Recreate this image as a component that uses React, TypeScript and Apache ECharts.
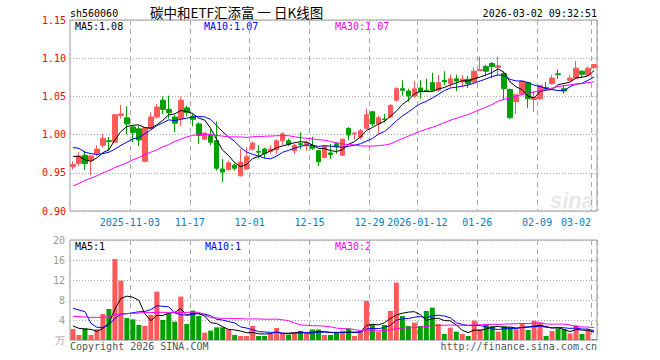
import React, { useEffect, useRef } from "react";
import * as echarts from "echarts";

const dates = [
  "2025-10-20","2025-10-21","2025-10-22","2025-10-23","2025-10-24","2025-10-27","2025-10-28","2025-10-29","2025-10-30","2025-10-31",
  "2025-11-03","2025-11-04","2025-11-05","2025-11-06","2025-11-07","2025-11-10","2025-11-11","2025-11-12","2025-11-13","2025-11-14",
  "2025-11-17","2025-11-18","2025-11-19","2025-11-20","2025-11-21","2025-11-24","2025-11-25","2025-11-26","2025-11-27","2025-11-28",
  "2025-12-01","2025-12-02","2025-12-03","2025-12-04","2025-12-05","2025-12-08","2025-12-09","2025-12-10","2025-12-11","2025-12-12",
  "2025-12-15","2025-12-16","2025-12-17","2025-12-18","2025-12-19","2025-12-22","2025-12-23","2025-12-24","2025-12-25","2025-12-26",
  "2025-12-29","2025-12-30","2025-12-31","2026-01-05","2026-01-06","2026-01-07","2026-01-08","2026-01-09",
  "2026-01-12","2026-01-13","2026-01-14","2026-01-15","2026-01-16","2026-01-19","2026-01-20","2026-01-21","2026-01-22","2026-01-23",
  "2026-01-26","2026-01-27","2026-01-28","2026-01-29","2026-01-30","2026-02-02","2026-02-03","2026-02-04","2026-02-05","2026-02-06",
  "2026-02-09","2026-02-10","2026-02-11","2026-02-12","2026-02-13","2026-02-24","2026-02-25","2026-02-26","2026-02-27",
  "2026-03-02",
];

const openP = [
  0.958,0.962,0.973,0.966,0.975,0.986,0.992,0.990,1.025,1.022,
  1.010,1.0075,0.965,1.008,1.023,1.045,1.033,1.023,1.021,1.035,
  1.024,1.014,0.994,0.999,0.992,0.955,0.954,0.960,0.946,0.955,
  0.981,0.978,0.981,0.978,0.980,0.992,0.992,0.979,0.988,0.9855,
  0.986,0.979,0.970,0.976,0.988,0.973,1.008,1.001,0.9965,1.008,
  1.030,1.014,1.0205,1.023,1.045,1.060,1.057,1.0505,
  1.061,1.058,1.068,1.058,1.071,1.067,1.073,1.069,1.0725,1.069,
  1.084,1.089,1.093,1.088,1.080,1.059,1.043,1.0535,1.068,1.046,
  1.047,1.0615,1.0667,1.0795,1.060,1.071,1.074,1.083,1.078,
  1.088,
];
const closeP = [
  0.961,0.972,0.962,0.972,0.981,0.995,0.991,1.026,1.027,1.014,
  1.003,0.993,1.009,1.023,1.036,1.033,1.029,1.015,1.045,1.029,
  1.020,0.999,1.002,0.990,0.956,0.951,0.963,0.956,0.964,0.971,
  0.989,0.977,0.975,0.981,0.992,1.001,0.987,0.986,0.987,0.990,
  0.982,0.9645,0.985,0.974,0.984,0.994,0.9995,1.002,1.005,1.026,
  1.014,1.022,1.0195,1.038,1.060,1.058,1.0505,1.060,
  1.056,1.057,1.058,1.068,1.069,1.073,1.070,1.0725,1.067,1.083,
  1.085,1.083,1.089,1.090,1.060,1.022,1.052,1.070,1.047,1.049,
  1.0645,1.0605,1.074,1.0785,1.057,1.074,1.087,1.079,1.087,
  1.0917,
];
const lowP = [
  0.954,0.959,0.954,0.947,0.972,0.983,0.979,0.989,1.021,1.000,
  0.990,0.985,0.964,1.0075,1.021,1.027,1.021,1.003,1.011,1.024,
  1.011,0.988,0.993,0.986,0.953,0.938,0.953,0.953,0.945,0.954,
  0.979,0.969,0.969,0.975,0.975,0.986,0.985,0.975,0.981,0.979,
  0.980,0.959,0.969,0.968,0.975,0.972,0.993,0.993,0.994,1.007,
  1.011,1.001,1.016,1.022,1.043,1.051,1.043,1.048,
  1.047,1.056,1.056,1.056,1.0645,1.062,1.057,1.062,1.061,1.067,
  1.083,1.077,1.074,1.077,1.045,1.021,1.027,1.051,1.035,1.030,
  1.045,1.059,1.0655,1.073,1.0535,1.070,1.073,1.075,1.077,
  1.086,
];
const highP = [
  0.965,0.977,0.979,0.973,0.986,1.001,0.997,1.027,1.039,1.037,
  1.012,1.011,1.009,1.029,1.040,1.050,1.051,1.026,1.050,1.038,
  1.027,1.016,1.003,1.007,1.017,0.968,0.966,0.962,0.981,0.983,
  0.991,0.986,0.983,0.986,0.994,1.003,0.995,0.988,1.003,0.992,
  0.997,0.979,0.986,0.988,0.990,0.995,1.010,1.003,1.0075,1.034,
  1.030,1.025,1.027,1.040,1.062,1.071,1.060,1.070,
  1.071,1.073,1.081,1.078,1.083,1.0785,1.0785,1.078,1.077,1.088,
  1.102,1.091,1.095,1.102,1.082,1.060,1.0535,1.071,1.069,1.0565,
  1.065,1.069,1.078,1.085,1.065,1.0785,1.0965,1.084,1.089,
  1.092,
];

// volume, unit 万
const volume = [
  2.2,1.0,2.33,1.0,2.13,5.2,6.2,16.2,11.87,4.4,
  4.13,3.0,2.8,5.0,9.67,4.0,5.33,3.67,8.67,3.2,
  5.87,4.8,1.47,1.87,2.53,2.53,2.13,1.0,0.8,0.8,
  2.8,0.8,0.8,1.2,2.4,1.3,1.1,1.3,1.8,1.3,
  2.1,2.1,1.0,1.0,1.47,1.87,2.33,0.8,1.67,7.8,
  3.13,1.67,3.0,5.8,11.47,4.8,2.8,3.47,
  2.8,5.8,6.47,3.2,1.2,2.47,1.67,1.2,0.8,3.87,
  2.13,3.13,2.8,1.67,2.8,2.53,2.13,3.33,2.0,3.87,
  3.47,0.8,1.8,2.33,2.13,1.33,2.93,1.2,2.13,
  0.2,
];

// moving-average values before enough visible days exist
const priceMa5Warm = [0.9715, 0.9715, 0.967, 0.965];
const priceMa10Warm = [0.983, 0.982, 0.977, 0.975, 0.974, 0.975, 0.977, 0.981, 0.986];
const priceMa30Warm = [
  0.933,0.936,0.940,0.943,0.946,0.950,0.953,0.957,0.960,0.963,
  0.967,0.970,0.974,0.977,0.980,0.984,0.987,0.991,0.994,0.997,
  0.999,1.000,1.000,1.000,0.999,0.998,0.997,0.997,0.997,
];
const volMa5Warm = [2.8, 2.33, 2.2, 2.13];
const volMa10Warm = [6.33, 6.0, 5.67, 3.33, 2.53, 2.53, 3.0, 4.33, 5.2];
const volMa30Warm = [
  4.73,4.67,4.6,4.53,4.53,4.53,4.67,5.07,5.2,5.27,
  5.33,5.4,5.47,5.47,5.53,5.53,5.53,5.53,5.53,5.53,
  5.53,5.53,5.0,4.47,4.4,4.33,4.33,4.27,4.27,
];

const tickDates = ["2025-11-03","2025-11-17","2025-12-01","2025-12-15","2025-12-29","2026-01-12","2026-01-26","2026-02-09","2026-03-02"];
const tickLabels = ["2025-11-03","11-17","12-01","12-15","12-29","2026-01-12","01-26","02-09","03-02"];

const priceMin = 0.9, priceMax = 1.15, priceStep = 0.05;
const volMin = 0, volMax = 20, volStep = 4;
const volUnit = "万";

const stockCode = "sh560060";
const titleText = "碳中和ETF汇添富 一 日K线图";
const timeText = "2026-03-02 09:32:51";
const priceMaTexts = ["MA5:1.08", "MA10:1.07", "MA30:1.07"];
const volMaTexts = ["MA5:1", "MA10:1", "MA30:2"];
const copyrightText = "Copyright 2026 SINA.COM";
const urlText = "http://finance.sina.com.cn";

const UP = "#ff5a5a";
const DOWN = "#00a000";
const MA_COLORS = ["#000000", "#0000ff", "#ff00ff"];
const MONO = '"DejaVu Sans Mono", monospace';

function movingAvg(values: number[], n: number, warm: number[]) {
  return values.map((_, i) => {
    if (i < n - 1) return warm[i];
    let s = 0;
    for (let k = i - n + 1; k <= i; k++) s += values[k];
    return +(s / n).toFixed(4);
  });
}

export default function App() {
  const ref = useRef<HTMLDivElement>(null);
  useEffect(() => {
    if (!ref.current) return;
    const chart = echarts.init(ref.current, null, { renderer: "svg" });

    const candles = dates.map((_, i) => [openP[i], closeP[i], lowP[i], highP[i]]);
    const volData = volume.map((v, i) => ({
      value: v,
      itemStyle: { color: closeP[i] >= openP[i] ? UP : DOWN },
    }));
    const pMa = [
      movingAvg(closeP, 5, priceMa5Warm),
      movingAvg(closeP, 10, priceMa10Warm),
      movingAvg(closeP, 30, priceMa30Warm),
    ];
    const vMa = [
      movingAvg(volume, 5, volMa5Warm),
      movingAvg(volume, 10, volMa10Warm),
      movingAvg(volume, 30, volMa30Warm),
    ];

    const isTick = (_i: number, v: string) => tickDates.indexOf(v) >= 0;
    const gridLine = { show: true, interval: isTick, lineStyle: { color: "#aaaaaa", type: [5, 4] as any, width: 1 } };
    const dotted = { show: true, lineStyle: { color: "#aaaaaa", type: [1, 2] as any, width: 1 } };

    const lineSeries = (data: number[], color: string, xi: number) => ({
      type: "line",
      xAxisIndex: xi,
      yAxisIndex: xi,
      data,
      symbol: "none",
      showSymbol: false,
      lineStyle: { color, width: 1 },
      itemStyle: { color },
      silent: true,
      z: 3,
    });

    const txt = (text: string, x: number, y: number, fill: string, font: string, align = "left") => ({
      type: "text",
      x,
      y,
      silent: true,
      style: {
        text,
        fill,
        font,
        align,
        textAlign: align,
        verticalAlign: "middle",
        textVerticalAlign: "middle",
      },
    });

    chart.setOption({
      animation: false,
      backgroundColor: "#ffffff",
      grid: [
        { left: 70, top: 20, width: 527, height: 191, show: true, borderColor: "#999999", borderWidth: 1, backgroundColor: "transparent" },
        { left: 70, top: 240, width: 527, height: 100, show: true, borderColor: "#999999", borderWidth: 1, backgroundColor: "transparent" },
      ],
      xAxis: [
        {
          type: "category",
          gridIndex: 0,
          data: dates,
          boundaryGap: true,
          axisLine: { show: false },
          axisTick: { show: false },
          axisLabel: {
            interval: isTick,
            margin: 6,
            fontFamily: MONO,
            fontSize: 10,
            color: "#0080cc",
            formatter: (v: string) => {
              const k = tickDates.indexOf(v);
              const lab = tickLabels[k];
              return k === tickDates.length - 1 ? `{e|${lab}}` : `{c|${lab}}`;
            },
            rich: {
              c: { fontFamily: MONO, fontSize: 10, color: "#0080cc", padding: [0, 6, 0, 0] },
              e: { fontFamily: MONO, fontSize: 10, color: "#0080cc", padding: [0, 36, 0, 0] },
            },
          },
          splitLine: gridLine,
        },
        {
          type: "category",
          gridIndex: 1,
          data: dates,
          boundaryGap: true,
          axisLine: { show: false },
          axisTick: { show: false },
          axisLabel: { show: false },
          splitLine: gridLine,
        },
      ],
      yAxis: [
        {
          type: "value",
          gridIndex: 0,
          min: priceMin,
          max: priceMax,
          interval: priceStep,
          axisLine: { show: false },
          axisTick: { show: false },
          axisLabel: {
            color: "#ff0000",
            fontFamily: MONO,
            fontSize: 10,
            margin: 4,
            formatter: (v: number) => v.toFixed(2),
          },
          splitLine: dotted,
        },
        {
          type: "value",
          gridIndex: 1,
          min: volMin,
          max: volMax,
          interval: volStep,
          axisLine: { show: false },
          axisTick: { show: false },
          axisLabel: {
            color: "#999999",
            fontFamily: MONO,
            fontSize: 10,
            margin: 5,
            formatter: (v: number) => (v === 0 ? volUnit : String(v)),
          },
          splitLine: dotted,
        },
      ],
      series: [
        {
          type: "candlestick",
          xAxisIndex: 0,
          yAxisIndex: 0,
          data: candles,
          barWidth: 5,
          itemStyle: { color: UP, color0: DOWN, borderColor: UP, borderColor0: DOWN, borderWidth: 1 },
          z: 2,
        },
        lineSeries(pMa[0], MA_COLORS[0], 0),
        lineSeries(pMa[1], MA_COLORS[1], 0),
        lineSeries(pMa[2], MA_COLORS[2], 0),
        {
          type: "bar",
          xAxisIndex: 1,
          yAxisIndex: 1,
          data: volData,
          barWidth: 5,
          z: 2,
        },
        lineSeries(vMa[0], MA_COLORS[0], 1),
        lineSeries(vMa[1], MA_COLORS[1], 1),
        lineSeries(vMa[2], MA_COLORS[2], 1),
      ],
      graphic: [
        txt(stockCode, 70, 13, "#000000", `10px ${MONO}`),
        txt(titleText, 150, 12, "#000000", '13.5px "Noto Sans CJK SC"'),
        txt(timeText, 597, 13, "#000000", `10px ${MONO}`, "right"),
        txt(priceMaTexts[0], 75, 26, MA_COLORS[0], `10px ${MONO}`),
        txt(priceMaTexts[1], 204, 26, MA_COLORS[1], `10px ${MONO}`),
        txt(priceMaTexts[2], 335, 26, MA_COLORS[2], `10px ${MONO}`),
        txt(volMaTexts[0], 75, 246, MA_COLORS[0], `10px ${MONO}`),
        txt(volMaTexts[1], 205, 246, MA_COLORS[1], `10px ${MONO}`),
        txt(volMaTexts[2], 335, 246, MA_COLORS[2], `10px ${MONO}`),
        txt(copyrightText, 70, 346, "#555555", `10px ${MONO}`),
        txt(urlText, 597, 346, "#555555", `10px ${MONO}`, "right"),
        txt("sina", 594, 200, "#e8e8e8", 'italic bold 22px "Liberation Sans"', "right"),
      ],
    });
    return () => chart.dispose();
  }, []);
  return (
    <div
      ref={ref}
      style={{ position: "fixed", left: 0, top: 0, width: 660, height: 360, background: "#fff" }}
    />
  );
}
